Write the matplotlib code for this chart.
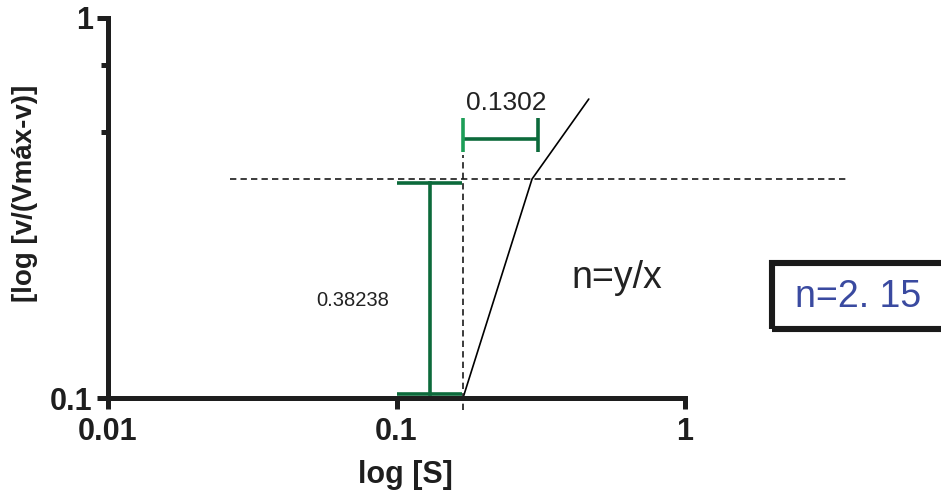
import matplotlib
matplotlib.use('Agg')
import matplotlib.pyplot as plt
from matplotlib.patches import Rectangle

# data
S = [0.170, 0.295, 0.464]
ratio = [0.100, 0.377, 0.612]

x_ticks = [0.01, 0.1, 1]
x_tick_labels = ['0.01', '0.1', '1']
y_ticks = [0.1, 1]
y_tick_labels = ['0.1', '1']
y_minor = [0.5, 0.75]

ref_x = 0.170          # vertical dashed line
ref_y = 0.377          # horizontal dashed line
dy_x = 0.1305          # vertical green bar
dy_low, dy_high = 0.1025, 0.368
dx_y = 0.480           # horizontal green bracket
dx_left, dx_right = 0.170, 0.310

bold = ['Liberation Sans', 'DejaVu Sans']
plain = ['Liberation Sans', 'DejaVu Sans']
dark_green = '#0c6a3b'
light_green = '#1c9e57'

fig = plt.figure(figsize=(9.41, 4.93), dpi=100)
ax = fig.add_axes([108/941, 1-398/493, 577/941, 380/493])
ax.set_xscale('log')
ax.set_yscale('log')
ax.set_xlim(0.01, 1)
ax.set_ylim(0.1, 1)

# black line
ax.plot(S, ratio, color='black', lw=1.2, solid_capstyle='round')

# dashed reference lines
dash = (0, (3.8, 2.5))
ax.plot([0.0265, 3.67], [ref_y, ref_y], color='#1a1a1a', lw=1.2, ls=dash, clip_on=False)
ax.plot([ref_x, ref_x], [0.093, 0.436], color='#1a1a1a', lw=1.2, ls=dash, clip_on=False)

# vertical green bar (y difference)
ax.plot([dy_x, dy_x], [dy_low, dy_high], color=dark_green, lw=2.6, clip_on=False)
ax.plot([0.1004, 0.168], [dy_high, dy_high], color=dark_green, lw=2.6, solid_capstyle='butt')
ax.plot([0.1004, 0.168], [dy_low, dy_low], color=dark_green, lw=2.6, solid_capstyle='butt')

# horizontal green bracket (x difference)
ax.plot([dx_left, dx_right], [dx_y, dx_y], color=dark_green, lw=2.6, solid_capstyle='butt')
ax.plot([dx_left, dx_left], [0.444, 0.546], color=light_green, lw=2.6, solid_capstyle='butt')
ax.plot([dx_right, dx_right], [0.444, 0.546], color=dark_green, lw=2.6, solid_capstyle='butt')

# annotations
ax.text(0.240, 0.597, '0.1302', fontsize=19, family=plain, ha='center', va='center', color='#222222')
ax.text(0.0706, 0.181, '0.38238', fontsize=14.5, family=plain, ha='center', va='center', color='#222222')
ax.text(0.581, 0.1948, 'n=y/x', fontsize=27, family=plain, ha='center', va='baseline', color='#222222')

# spines and ticks
for side in ['top', 'right']:
    ax.spines[side].set_visible(False)
for side in ['left', 'bottom']:
    ax.spines[side].set_linewidth(3.6)
    ax.spines[side].set_color('#1e1e1e')
ax.set_xticks(x_ticks)
ax.set_xticklabels(x_tick_labels, family=bold, fontweight='bold', fontsize=22)
ax.set_yticks(y_ticks)
ax.set_yticklabels(y_tick_labels, family=bold, fontweight='bold', fontsize=22)
ax.xaxis.set_minor_locator(plt.NullLocator())
ax.set_yticks(y_minor, minor=True)
ax.tick_params(axis='both', which='major', length=8, width=3.6, color='#1e1e1e', labelcolor='#1e1e1e')
ax.tick_params(axis='x', which='major', pad=6)
ax.tick_params(axis='y', which='major', pad=3)
ax.tick_params(axis='y', which='minor', length=5, width=3.6, color='#1e1e1e')
ax.tick_params(axis='y', which='minor', labelleft=False)

# axis titles
fig.text(405/941, 1-475/493, 'log [S]', family=bold, fontweight='bold', fontsize=22,
         ha='center', va='center', color='#1e1e1e')
fig.text(25/941, 1-193/493, '[log [v/(Vmáx-v)]', family=bold, fontweight='bold', fontsize=20,
         ha='center', va='center', rotation=90, color='#1e1e1e')

# result box
fig.patches.append(Rectangle((772/941, 1-329/493), 190/941, 66/493, transform=fig.transFigure,
                             fill=False, edgecolor='#1a1a1a', lw=4.4, clip_on=False))
fig.text(795/941, 1-307/493, 'n=2. 15', family=plain, fontsize=27, color='#3a4aa0',
         ha='left', va='baseline')

fig.savefig('out.png', dpi=100)
